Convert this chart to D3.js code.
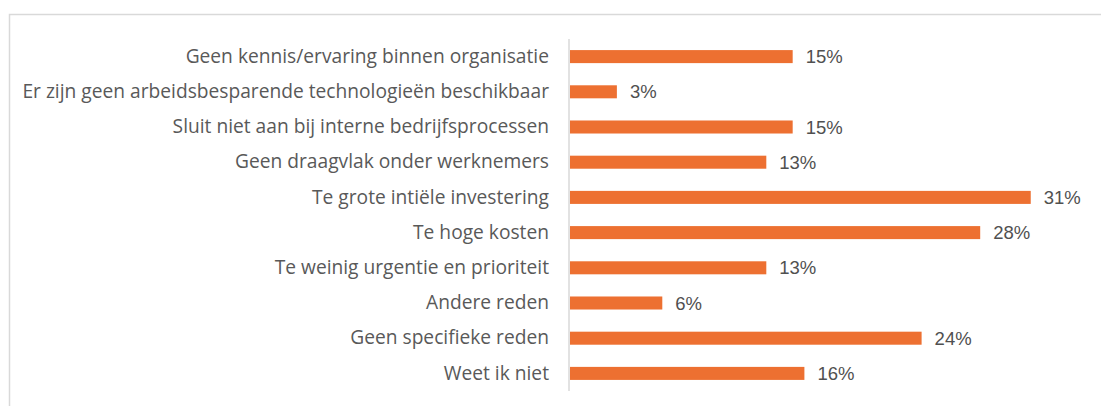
<!DOCTYPE html>
<html>
<head>
<meta charset="utf-8">
<script src="https://cdn.jsdelivr.net/npm/d3@7"></script>
<style>
  body { margin: 0; background: #fff; }
  svg { display: block; }
</style>
</head>
<body>
<div id="chart"></div>
<script>
// categories, top to bottom
var categories = [
  "Geen kennis/ervaring binnen organisatie",
  "Er zijn geen arbeidsbesparende technologieën beschikbaar",
  "Sluit niet aan bij interne bedrijfsprocessen",
  "Geen draagvlak onder werknemers",
  "Te grote intiële investering",
  "Te hoge kosten",
  "Te weinig urgentie en prioriteit",
  "Andere reden",
  "Geen specifieke reden",
  "Weet ik niet"
];
// share of respondents (%)
var values = [15.2, 3.2, 15.2, 13.4, 31.45, 28, 13.4, 6.3, 24, 16];
// labels shown next to bars
var valueLabels = ["15%", "3%", "15%", "13%", "31%", "28%", "13%", "6%", "24%", "16%"];

var W = 1101, H = 406;
var x0 = 570, plotTop = 39, plotBottom = 391;

var svg = d3.select("#chart").append("svg")
  .attr("width", W)
  .attr("height", H);

// chart frame (cut off at right and bottom)
svg.append("rect")
  .attr("x", 9.5).attr("y", 14.5)
  .attr("width", W + 20).attr("height", H + 20)
  .attr("fill", "none")
  .attr("stroke", "#d9d9d9")
  .attr("stroke-width", 1.5);

var data = categories.map(function(c, i){ return {cat: c, val: values[i], lab: valueLabels[i]}; });

var xScale = d3.scaleLinear()
  .domain([0, 10])
  .range([x0, x0 + 146.5]);

var yScale = d3.scaleBand()
  .domain(categories)
  .range([plotTop, plotBottom])
  .paddingInner(0.63)
  .paddingOuter(0.315);

// bars
svg.selectAll(".bar")
  .data(data)
  .enter().append("rect")
  .attr("class", "bar")
  .attr("x", xScale(0))
  .attr("y", function(d){ return yScale(d.cat); })
  .attr("width", function(d){ return xScale(d.val) - xScale(0); })
  .attr("height", yScale.bandwidth())
  .attr("fill", "#ed7031");

// category axis
var yAxis = svg.append("g")
  .attr("transform", "translate(" + (x0 - 1) + ",0)")
  .call(d3.axisLeft(yScale).tickSize(0).tickPadding(20));
yAxis.select(".domain")
  .attr("d", "M0," + plotTop + "V" + plotBottom)
  .attr("stroke", "#d9d9d9")
  .attr("stroke-width", 1.5);
yAxis.selectAll("text")
  .attr("fill", "#595959")
  .style("font-family", "'Open Sans', sans-serif")
  .style("font-size", "19.2px");

// value labels
svg.selectAll(".val")
  .data(data)
  .enter().append("text")
  .attr("class", "val")
  .attr("x", function(d){ return xScale(d.val) + 13; })
  .attr("y", function(d){ return yScale(d.cat) + yScale.bandwidth() / 2; })
  .attr("dy", "0.36em")
  .attr("fill", "#505050")
  .style("font-family", "'Liberation Sans', Arial, sans-serif")
  .style("font-size", "18.5px")
  .text(function(d){ return d.lab; });
</script>
</body>
</html>
